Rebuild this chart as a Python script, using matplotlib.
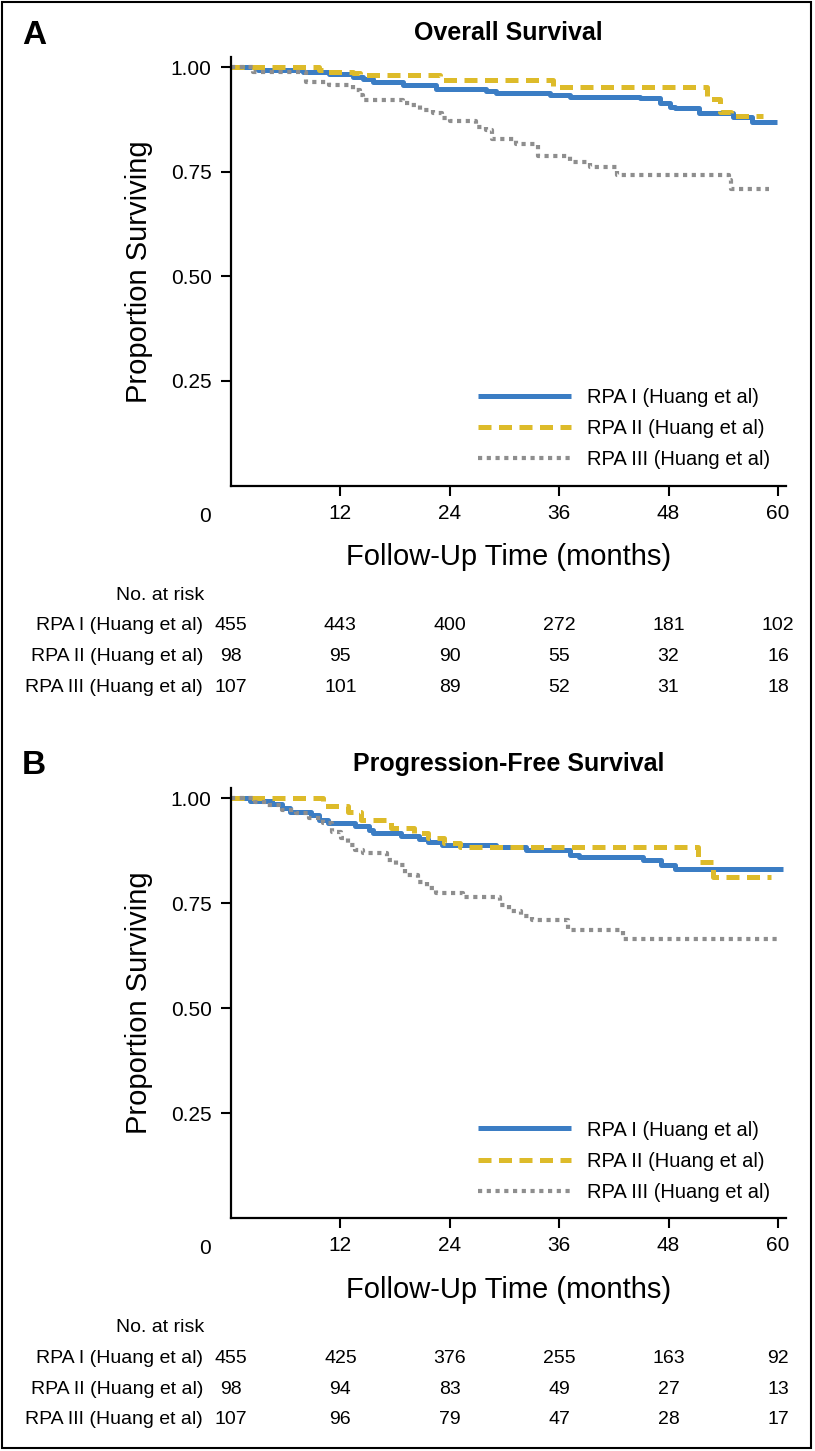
import matplotlib
matplotlib.use("Agg")
import matplotlib.pyplot as plt
from matplotlib.patches import Rectangle
from matplotlib.transforms import blended_transform_factory

plt.rcParams['font.family'] = ['Liberation Sans', 'DejaVu Sans']

# ---------------- data ----------------
groups = ["RPA I (Huang et al)", "RPA II (Huang et al)", "RPA III (Huang et al)"]
risk_times = [0, 12, 24, 36, 48, 60]
x_ticks = [12, 24, 36, 48, 60]
y_ticks = [0.25, 0.50, 0.75, 1.00]
y_ticklabels = ["0.25", "0.50", "0.75", "1.00"]

# Panel A: overall survival (step change points)
os1_t = [0, 3, 7.9, 10.8, 13.4, 14.5, 15.6, 18.9, 22.5, 28.0, 29.1, 35.0, 37.2, 44.9,
         47.1, 48.2, 48.7, 51.3, 55.1, 57.2, 59.9]
os1_s = [1.0, 0.995, 0.99, 0.985, 0.977, 0.972, 0.965, 0.957, 0.949, 0.944, 0.939, 0.934,
         0.930, 0.926, 0.914, 0.906, 0.902, 0.890, 0.882, 0.870, 0.870]
os2_t = [0, 9.7, 10.5, 13.4, 14.1, 22.9, 35.3, 52.2, 53.6, 54.8, 58.4]
os2_s = [1.0, 0.995, 0.99, 0.986, 0.981, 0.971, 0.954, 0.925, 0.893, 0.883, 0.883]
os3_t = [0, 2.4, 8.2, 10.8, 13.4, 14.1, 14.5, 18.9, 19.6, 20.7, 22.2, 23.1, 24.0, 26.9,
         28.0, 28.6, 31.3, 33.7, 37.2, 39.4, 42.3, 54.6, 54.9, 59.0]
os3_s = [1.0, 0.988, 0.965, 0.958, 0.946, 0.934, 0.922, 0.916, 0.910, 0.899, 0.890, 0.880,
         0.872, 0.858, 0.850, 0.830, 0.816, 0.787, 0.774, 0.762, 0.742, 0.730, 0.710, 0.710]
os_risk1 = [455, 443, 400, 272, 181, 102]
os_risk2 = [98, 95, 90, 55, 32, 16]
os_risk3 = [107, 101, 89, 52, 31, 18]

# Panel B: progression-free survival
pfs1_t = [0, 2.1, 4.5, 5.6, 6.5, 8.8, 9.6, 10.6, 13.6, 15.1, 15.6, 18.6, 20.6, 21.6, 23.1,
          29.1, 32.4, 37.2, 38.2, 45.2, 47.2, 48.7, 60.5]
pfs1_s = [1.0, 0.994, 0.987, 0.976, 0.968, 0.960, 0.948, 0.941, 0.933, 0.924, 0.916, 0.910,
          0.902, 0.896, 0.888, 0.883, 0.876, 0.864, 0.860, 0.852, 0.840, 0.830, 0.830]
pfs2_t = [0, 10.1, 12.8, 14.3, 17.6, 20.1, 21.6, 23.4, 25.1, 51.2, 52.9, 59.2]
pfs2_s = [1.0, 0.980, 0.968, 0.948, 0.928, 0.916, 0.904, 0.892, 0.883, 0.848, 0.813, 0.813]
pfs3_t = [0, 2.6, 4.0, 5.6, 7.1, 8.6, 10.1, 11.1, 12.1, 12.8, 13.6, 14.5, 17.1, 18.1, 19.1,
          20.5, 21.5, 22.5, 25.5, 29.5, 30.5, 31.8, 33.0, 37.0, 43.0, 60.0]
pfs3_s = [1.0, 0.991, 0.983, 0.971, 0.964, 0.952, 0.940, 0.920, 0.904, 0.888, 0.876, 0.869,
          0.852, 0.841, 0.817, 0.800, 0.785, 0.775, 0.765, 0.745, 0.730, 0.720, 0.710, 0.685,
          0.665, 0.665]
pfs_risk1 = [455, 425, 376, 255, 163, 92]
pfs_risk2 = [98, 94, 83, 49, 27, 13]
pfs_risk3 = [107, 96, 79, 47, 28, 17]

# ---------------- styling ----------------
W, H = 815, 1451
colors = ["#3B7DC4", "#DDBB2A", "#8E8E8E"]
styles = [dict(lw=3.6, ls='-'),
          dict(lw=3.6, dashes=(2.6, 1.5)),
          dict(lw=3.0, dashes=(1.0, 1.1))]

def fx(px):
    return px / W

def fy(py):
    return 1 - py / H

fig = plt.figure(figsize=(W / 100, H / 100), dpi=100)

panels = [
    dict(letter="A", title="Overall Survival", top=57, bottom=485.5, ymax=1.025,
         curves=[(os1_t, os1_s), (os2_t, os2_s), (os3_t, os3_s)],
         risks=[os_risk1, os_risk2, os_risk3]),
    dict(letter="B", title="Progression-Free Survival", top=788, bottom=1218, ymax=1.024,
         curves=[(pfs1_t, pfs1_s), (pfs2_t, pfs2_s), (pfs3_t, pfs3_s)],
         risks=[pfs_risk1, pfs_risk2, pfs_risk3]),
]

left_px, right_px = 231, 786
xmax = 60.88

for p in panels:
    top, bot = p["top"], p["bottom"]
    hpx = bot - top
    ax = fig.add_axes([fx(left_px), fy(bot), fx(right_px) - fx(left_px), fy(top) - fy(bot)])
    ax.set_xlim(0, xmax)
    ax.set_ylim(0, p["ymax"])
    for spine in ["top", "right"]:
        ax.spines[spine].set_visible(False)
    for spine in ["left", "bottom"]:
        ax.spines[spine].set_linewidth(1.6)

    handles = []
    for (t, s), c, st, lab in zip(p["curves"], colors, styles, groups):
        ln, = ax.step(t, s, where='post', color=c, label=lab, solid_capstyle='butt',
                      dash_capstyle='butt', clip_on=False, **st)
        handles.append(ln)

    ax.set_xticks(x_ticks)
    ax.set_xticklabels([str(v) for v in x_ticks])
    ax.set_yticks(y_ticks)
    ax.set_yticklabels(y_ticklabels)
    ax.tick_params(axis='both', direction='out', length=7, width=1.5, labelsize=15,
                   colors='black')
    ax.tick_params(axis='x', pad=6)
    ax.tick_params(axis='y', pad=7)

    # "0" label placed left of the y axis
    bt = blended_transform_factory(ax.transData, ax.transAxes)
    ax.text(-2.85, (bot - (bot + 31)) / hpx, "0", transform=bt, ha='center', va='center',
            fontsize=15, clip_on=False)

    ax.set_xlabel("Follow-Up Time (months)", fontsize=21)
    ax.xaxis.label.set_va('center')
    ax.xaxis.set_label_coords(0.5, (bot - (bot + 71.5)) / hpx)
    ax.set_ylabel("Proportion Surviving", fontsize=21)
    ax.yaxis.label.set_va('center')
    ax.yaxis.set_label_coords((139 - left_px) / (right_px - left_px), (bot - (top + bot) / 2) / hpx)

    ax.set_title(p["title"], fontsize=18, fontweight='bold', pad=0, va='center',
                 y=1 + 24 / hpx)

    fig.text(fx(34), fy(top - 22), p["letter"], fontsize=24, fontweight='bold',
             ha='center', va='center')

    ax.legend(handles=handles, loc='upper left', frameon=False, fontsize=14.5,
              bbox_to_anchor=(fx(478), fy(bot - 91 - 6.5)),
              bbox_transform=fig.transFigure, borderpad=0, borderaxespad=0,
              handlelength=4.6, handletextpad=0.8, labelspacing=0.6)

    # number at risk table
    lab_x = (203 - left_px) / (right_px - left_px)
    ax.text(lab_x + 0.002, (bot - (bot + 109.5)) / hpx, "No. at risk", transform=ax.transAxes,
            ha='right', va='center', fontsize=14, clip_on=False)
    for i, (g, r) in enumerate(zip(groups, p["risks"])):
        yy = (bot - (bot + 140.5 + 30.5 * i)) / hpx
        ax.text(lab_x, yy, g, transform=ax.transAxes, ha='right', va='center',
                fontsize=14, clip_on=False)
        for tt, n in zip(risk_times, r):
            ax.text(tt, yy, str(n), transform=bt, ha='center', va='center',
                    fontsize=14, clip_on=False)

fig.patches.append(Rectangle((fx(2), fy(1448)), fx(811) - fx(2), fy(2) - fy(1448),
                             transform=fig.transFigure, fill=False, lw=1.5,
                             edgecolor='black'))

fig.savefig("out.png", dpi=100, facecolor='white')
